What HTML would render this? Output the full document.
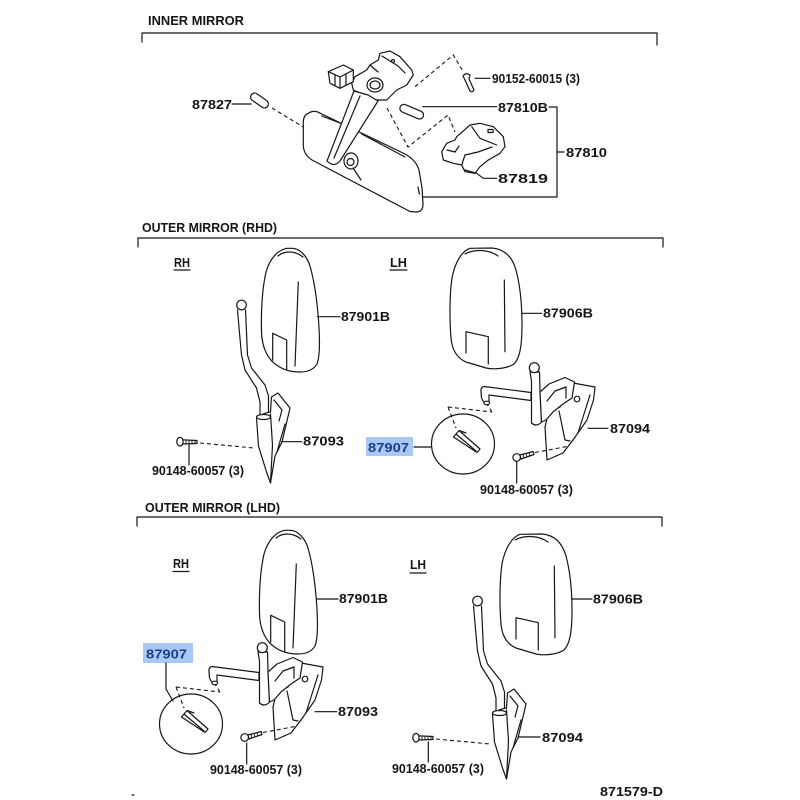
<!DOCTYPE html>
<html><head><meta charset="utf-8"><style>
html,body{margin:0;padding:0;background:#fff;}
svg{display:block;}
text{font-family:"Liberation Sans",Arial,sans-serif;font-weight:bold;fill:#151515;font-size:12.5px;}
.s{fill:none;stroke:#161616;stroke-width:1.2;stroke-linejoin:round;stroke-linecap:round;}
.f{fill:#fff;stroke:#161616;stroke-width:1.2;stroke-linejoin:round;}
.d{fill:none;stroke:#161616;stroke-width:1.1;stroke-dasharray:4 3;}
.t{fill:none;stroke:#161616;stroke-width:0.9;}
</style></head><body>
<svg width="800" height="800" viewBox="0 0 800 800" xmlns="http://www.w3.org/2000/svg">
<defs>
<g id="headA">
<path class="f" d="M286.7,248.3 C278,250 270,258 266,272 C262,290 261,310 261.5,332 C262,348 268,360 278,366 C284,370 292,372 300,372 C308,372 314,369 317,364 C320,356 320,340 318.5,320 C317,300 314,280 310,266 C307,256 300,249 293,248.3 Z"/>
<path class="s" d="M278,256 C284,251 294,250 303,257"/>
<path class="s" d="M298.3,282 L295,366"/>
<path class="s" d="M272.7,360 L272.7,333.3 L286.7,340 L286.7,369"/>
</g>
<g id="headB">
<path class="f" d="M470,248.3 C462,251 455,262 452,278 C449.5,295 449.5,320 451,338 C452,350 457,358 466,362 L486,368 C496,370 508,368 514,364 C520,358 522,345 522,325 C522,305 520,285 516,270 C512,256 504,249 492,248 Z"/>
<path class="s" d="M465,254 C474,249 488,249 498,256"/>
<path class="s" d="M504.3,280 L505,351.7"/>
<path class="s" d="M466,353 L466,331.7 L488.3,336.7 L488.3,364"/>
</g>
<g id="stayA">
<path class="s" d="M237.5,310 L239.5,333 L241.5,355 L245,370 L256.5,388 L260,402 L260,418"/>
<path class="s" d="M245.5,310 L247.5,355 L251.5,368 L265,385 L268.5,396 L268.5,414"/>
<circle class="f" cx="241.5" cy="305" r="4.8"/>
<path class="f" d="M256.5,418 L258.5,446 L266.5,472 L270.5,483 L275,456 L282,442 L290,408 L278,393 L271.5,397 L270.5,412 Q263,413 256.5,418 Z"/>
<ellipse class="f" cx="263.5" cy="417" rx="7" ry="2.5"/>
<path class="s" d="M270.5,414 L272.5,445 L270.5,483"/>
<path class="s" d="M285,424 L277,452"/>
<path class="s" d="M274,400 L282,410 L279,421"/>
<ellipse class="f" cx="180" cy="441.7" rx="3.2" ry="4.3"/>
<path class="f" d="M183,439.8 L197,440.5 L197,443.5 L183,444 Z"/>
<path class="t" d="M186,439.8 L186,444 M189,440 L189,444 M192,440.2 L192,443.8 M195,440.3 L195,443.6"/>
<path class="d" d="M200,443 L254,448"/>
</g>
<g id="stayB">
<path class="f" d="M573,383 L595,387 L593.5,400 L587,420 L573,440 L563,453 L547,460 L545,427 L549,410 L560,407 Z"/>
<circle class="s" cx="577" cy="399" r="2.8"/>
<path class="s" d="M559,411 L565,440 L570,441"/>
<path class="s" d="M590,395 L578,433"/>
<path class="f" d="M531,392.5 L484,386.5 Q480.5,387 481,392 L481.5,398 L484.5,403.5 L489,402 L489,395 L531,400.5 Z"/>
<ellipse class="f" cx="486.8" cy="403" rx="2.8" ry="1.8"/>
<path class="f" d="M530,372 L531.5,381 L531.5,423 Q536.5,427.5 541.5,422 L540,390 L539.5,372 Z"/>
<path class="f" d="M540,392 L549,384 L565,377.5 L574.5,382 L572,398 L563,404 L553,412 L546,420 L541.5,422 Z"/>
<path class="s" d="M547,401 L555,391 L566,387 L566,398"/>
<circle class="f" cx="534.3" cy="367.7" r="5"/>
<circle class="f" cx="516.7" cy="457.5" r="3.8"/>
<path class="f" d="M520,455 L533,451.5 L534,454.5 L521,459 Z"/>
<path class="t" d="M523,454 L524,458 M526,453.3 L527,457.3 M529,452.5 L530,456.3"/>
<path class="d" d="M535,452.5 L567,446.5"/>
</g>
<g id="disc">
<ellipse class="f" cx="463" cy="444" rx="31.5" ry="30"/>
<path class="f" d="M453.5,437 L459,430.5 L480,449 L477,452.5 Z"/>
<path class="s" d="M456,434 L476,451 M459,430.5 L466,433"/>
<path class="d" d="M448,407 L492,412 M448,407 L456,428 M492,412 L487,404"/>
</g>
</defs>

<!-- Section headers -->
<text x="148" y="25" textLength="96" lengthAdjust="spacingAndGlyphs" font-size="11.5">INNER MIRROR</text>
<path class="s" d="M142,42 L142,33 L657,33 L657,45"/>
<text x="142" y="232" textLength="135" lengthAdjust="spacingAndGlyphs" font-size="11.5">OUTER MIRROR (RHD)</text>
<path class="s" d="M138,247 L138,238 L663,238 L663,247"/>
<text x="145" y="512" textLength="135" lengthAdjust="spacingAndGlyphs" font-size="11.5">OUTER MIRROR (LHD)</text>
<path class="s" d="M137,526 L137,517 L662,517 L662,526"/>

<!-- INNER MIRROR -->
<rect class="f" x="249.5" y="96.5" width="20" height="8" rx="4" transform="rotate(35 259.5 100.5)"/>
<path class="s" d="M232,104 L251,104"/>
<text x="192" y="109" textLength="40" lengthAdjust="spacingAndGlyphs">87827</text>
<path class="d" d="M272,108 L336,147"/>
<path class="f" d="M308.3,113.3 Q312,110.5 317,111.7 L405,154 Q416,160 419,170 L422,188 L423,204 Q423,212 416,212 L410,211.5 L312,160 Q304,155 303.3,146 L303.3,122 Q303.5,115 308.3,113.3 Z"/>
<path class="s" d="M321.7,116 L340,123 M361.7,134 L405,157 M418,187 L419.3,194"/>
<path class="f" d="M351.7,83.3 L355,76.7 L366.7,70 L370,65 L378.3,60 L380,53.3 L390,51 L400,56.7 L411.7,70 L413.3,75 L406.7,85 L396.7,90 L386.7,100 L376.7,100 L365,95 L353.3,90 Z"/>
<ellipse class="s" cx="375" cy="85" rx="8" ry="7"/>
<ellipse class="s" cx="375" cy="85" rx="5" ry="4"/>
<path class="s" d="M382,56 L398,66 L405,73 M370,65 L378,72"/>
<circle class="s" cx="393" cy="61" r="1.5"/>
<path class="f" d="M328.3,71.7 L343.3,65 L353.3,70 L353.3,81.7 L340,88.3 L330,83.3 Z"/>
<path class="s" d="M328.3,71.7 L340,77 L353.3,70 M340,77 L340,88.3 M335,74.5 L335,86 M346,74 L346,85"/>
<path class="f" d="M327,161 L354,91 L368,95 L378,101 L340,161 Q334,168 327,161 Z"/>
<path class="s" d="M334,158 L360,96"/>
<ellipse class="f" cx="351" cy="161" rx="7" ry="8"/>
<circle class="s" cx="350.5" cy="162" r="3.5"/>
<path class="s" d="M353,168 L361,180"/>
<path class="f" d="M463,76 Q466,72 470,75 L469,79 L474,90 Q472,93 470,91 L465,80 Z"/>
<path class="d" d="M415,86.7 L453.3,55 L463.3,71.7"/>
<path class="s" d="M475,78.3 L490,78.3"/>
<text x="492" y="83" textLength="88" lengthAdjust="spacingAndGlyphs">90152-60015 (3)</text>
<rect class="f" x="399.2" y="107.7" width="25" height="8" rx="4" transform="rotate(23 411.7 111.7)"/>
<path class="s" d="M422.7,106.7 L496.7,106.7"/>
<text x="498" y="112" textLength="50" lengthAdjust="spacingAndGlyphs">87810B</text>
<path class="s" d="M549,107 L557,107 L557,197 L423,197 M557,152 L564,152"/>
<text x="566" y="157" textLength="41" lengthAdjust="spacingAndGlyphs">87810</text>
<path class="d" d="M387,108 L408,147 L448,115 L455,132"/>
<path class="f" d="M441.7,151.7 L446.7,143.3 L455,140 L456.7,136.7 L463.3,131 L470,125 L480,123.3 L493.3,126.7 L503.3,136.7 L505,146.7 L500,153.3 L488.3,160 L480,166.7 L475,173.3 L465,171.7 L461.7,165 L453.3,163.3 L443.3,160 Z"/>
<path class="s" d="M471.7,126.7 L480,138.3 L496.7,145 M461.7,165 L465,155 L478,152 L492,147 M447,150 L455,152 L459,146"/>
<rect class="s" x="488" y="129.5" width="5" height="3"/>
<path class="s" d="M465,170 L476.7,173.3 L483.3,178.3 L496.7,178.3"/>
<text x="498" y="183" textLength="50" lengthAdjust="spacingAndGlyphs">87819</text>

<!-- OUTER MIRROR RHD -->
<text x="174" y="267" textLength="16" lengthAdjust="spacingAndGlyphs">RH</text>
<path class="s" d="M174,270 L190,270"/>
<text x="390" y="267" textLength="17" lengthAdjust="spacingAndGlyphs">LH</text>
<path class="s" d="M390,270 L407,270"/>

<use href="#headA"/>
<path class="s" d="M317.5,316.7 L340,316.7"/>
<text x="341" y="321" textLength="49" lengthAdjust="spacingAndGlyphs">87901B</text>
<use href="#stayA"/>
<path class="s" d="M281.7,441.7 L301.7,441.7"/>
<text x="303" y="445.5" textLength="41" lengthAdjust="spacingAndGlyphs">87093</text>
<path class="s" d="M189,445 L189,465"/>
<text x="152" y="475" textLength="92" lengthAdjust="spacingAndGlyphs">90148-60057 (3)</text>

<use href="#headB"/>
<path class="s" d="M521.7,313.3 L541.7,313.3"/>
<text x="543" y="317.5" textLength="50" lengthAdjust="spacingAndGlyphs">87906B</text>
<use href="#stayB"/>
<path class="s" d="M588,428.3 L608,428.3"/>
<text x="610" y="433" textLength="40" lengthAdjust="spacingAndGlyphs">87094</text>
<path class="s" d="M516.7,461.5 L516.7,483"/>
<text x="480" y="494" textLength="93" lengthAdjust="spacingAndGlyphs">90148-60057 (3)</text>
<use href="#disc"/>
<rect x="366" y="437" width="47" height="19" fill="#a8c9f4"/>
<text x="368" y="452" textLength="41" lengthAdjust="spacingAndGlyphs" style="fill:#1a3f8f">87907</text>
<path class="s" d="M414,447 L431.5,447"/>

<!-- OUTER MIRROR LHD -->
<text x="173" y="568" textLength="16" lengthAdjust="spacingAndGlyphs">RH</text>
<path class="s" d="M173,571.5 L189,571.5"/>
<text x="410" y="569" textLength="16" lengthAdjust="spacingAndGlyphs">LH</text>
<path class="s" d="M410,573 L426,573"/>

<use href="#headA" transform="translate(-2,282)"/>
<path class="s" d="M317,599 L338,599"/>
<text x="339" y="603" textLength="49" lengthAdjust="spacingAndGlyphs">87901B</text>
<use href="#stayB" transform="translate(-272,280)"/>
<path class="s" d="M315,711.7 L336.7,711.7"/>
<text x="338" y="716" textLength="40" lengthAdjust="spacingAndGlyphs">87093</text>
<path class="s" d="M246.7,743 L246.7,764"/>
<text x="210" y="774" textLength="92" lengthAdjust="spacingAndGlyphs">90148-60057 (3)</text>
<use href="#disc" transform="translate(-272,280)"/>
<rect x="143" y="643" width="50" height="20" fill="#a8c9f4"/>
<text x="146" y="658.5" textLength="41" lengthAdjust="spacingAndGlyphs" style="fill:#1a3f8f">87907</text>
<path class="s" d="M166,663 L166,689 L173,701"/>

<use href="#headB" transform="translate(50,286)"/>
<path class="s" d="M571.7,599 L592,599"/>
<text x="593" y="603.5" textLength="50" lengthAdjust="spacingAndGlyphs">87906B</text>
<use href="#stayA" transform="translate(236,296)"/>
<path class="s" d="M518,737 L540,737"/>
<text x="542" y="742" textLength="41" lengthAdjust="spacingAndGlyphs">87094</text>
<path class="s" d="M428.3,742 L428.3,762"/>
<text x="392" y="773" textLength="92" lengthAdjust="spacingAndGlyphs">90148-60057 (3)</text>

<text x="600" y="796" textLength="63" lengthAdjust="spacingAndGlyphs">871579-D</text>
<path class="s" d="M132,795 L134,795"/>
</svg>
</body></html>
